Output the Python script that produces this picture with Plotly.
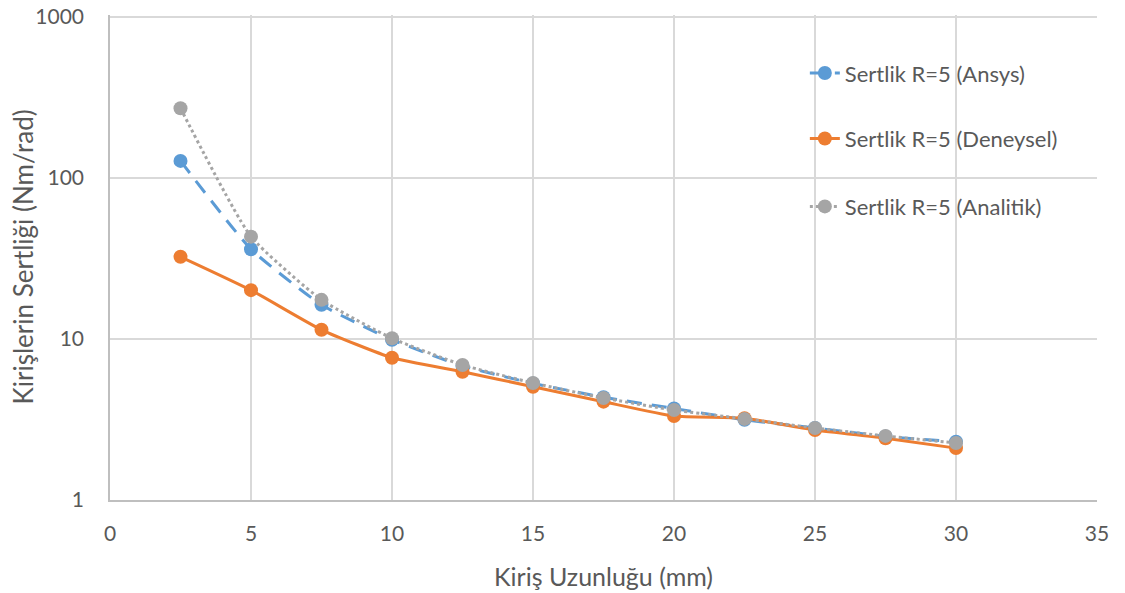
import plotly.graph_objects as go

x_mm = [2.5, 5, 7.5, 10, 12.5, 15, 17.5, 20, 22.5, 25, 27.5, 30]
ansys = [127.6, 36.1, 16.3, 9.9, 6.8, 5.3, 4.35, 3.7, 3.15, 2.8, 2.48, 2.3]
deneysel = [32.4, 20.1, 11.4, 7.65, 6.26, 5.05, 4.08, 3.32, 3.22, 2.72, 2.42, 2.1]
analitik = [271, 43.2, 17.5, 10.1, 6.9, 5.33, 4.3, 3.62, 3.19, 2.8, 2.5, 2.26]
names = ["Sertlik R=5 (Ansys)", "Sertlik R=5 (Deneysel)", "Sertlik R=5 (Analitik)"]
y_ticks = [1, 10, 100, 1000]
x_title = "Kiriş Uzunluğu (mm)"
y_title = "Kirişlerin Sertliği (Nm/rad)"

BLUE = "#5B9BD5"
ORANGE = "#ED7D31"
GRAY = "#A5A5A5"
TXT = "#595959"
FONT = "Lato"

fig = go.Figure()
fig.add_trace(go.Scatter(x=x_mm, y=ansys, name=names[0], mode="lines+markers", showlegend=True,
                         line=dict(color=BLUE, width=3, dash="15px,10px", shape="spline", smoothing=0.5),
                         marker=dict(size=14, color=BLUE), legend="legend"))
fig.add_trace(go.Scatter(x=x_mm, y=deneysel, name=names[1], mode="lines+markers", showlegend=True,
                         line=dict(color=ORANGE, width=3, shape="spline", smoothing=0.5),
                         marker=dict(size=14, color=ORANGE), legend="legend2"))
fig.add_trace(go.Scatter(x=x_mm, y=analitik, name=names[2], mode="lines+markers", showlegend=True,
                         line=dict(color=GRAY, width=3, dash="dot", shape="spline", smoothing=0.5),
                         marker=dict(size=14, color=GRAY), legend="legend3"))

leg = dict(font=dict(family=FONT, size=22, color=TXT), bgcolor="rgba(0,0,0,0)",
           xanchor="left", yanchor="middle", xref="paper", yref="paper")
fig.update_layout(
    width=1125, height=593,
    margin=dict(l=110, r=28, t=15, b=93),
    paper_bgcolor="white", plot_bgcolor="white",
    font=dict(family=FONT, color=TXT),
    showlegend=True,
    legend=dict(**leg, x=0.704, y=0.880),
    legend2=dict(**leg, x=0.704, y=0.745),
    legend3=dict(**leg, x=0.704, y=0.605),
    xaxis=dict(range=[0, 35], dtick=5, showgrid=True, gridcolor="#D9D9D9", gridwidth=1.5,
               zeroline=False, showline=True, linecolor="#BFBFBF", linewidth=1.5, ticks="",
               tickfont=dict(family=FONT, size=21, color=TXT), ticklabelstandoff=14, automargin=False),
    yaxis=dict(type="log", range=[0, 3.012], tickvals=y_ticks, ticktext=[str(v) for v in y_ticks],
               showgrid=True, gridcolor="#D9D9D9", gridwidth=1.5, zeroline=False,
               showline=True, linecolor="#BFBFBF", linewidth=1.5, ticks="",
               ticklabeloverflow="allow",
               tickfont=dict(family=FONT, size=21, color=TXT), ticklabelstandoff=20, automargin=False),
    annotations=[
        dict(text=x_title, xref="paper", yref="paper", x=0.5, y=0, yshift=-76, xanchor="center",
             yanchor="middle", showarrow=False, font=dict(family=FONT, size=25, color=TXT)),
        dict(text=y_title, xref="paper", yref="paper", x=0, y=0.5, xshift=-88, xanchor="center",
             yanchor="middle", textangle=-90, showarrow=False, font=dict(family=FONT, size=26, color=TXT)),
    ],
)
fig.write_html("out.html", config={"displayModeBar": False},
               post_script="document.body.style.margin='0px';")
